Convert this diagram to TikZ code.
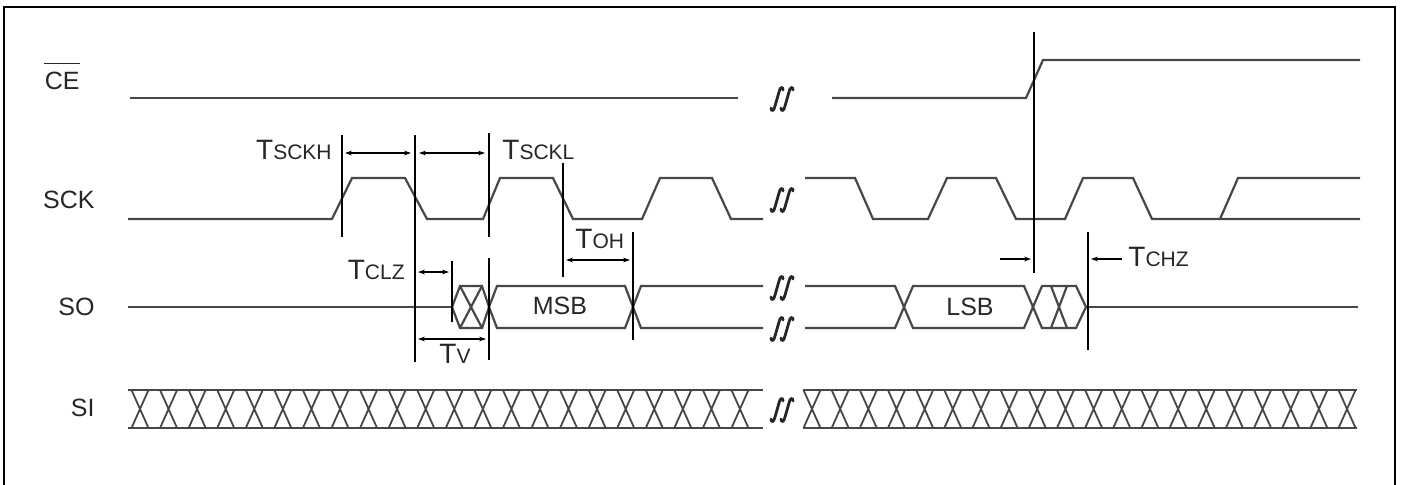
\documentclass[tikz,border=0pt]{standalone}
\usepackage{fontspec}
\setmainfont{Liberation Sans}
\usetikzlibrary{arrows.meta}
\newcommand{\tmlab}[1]{{\fontsize{14}{16}\selectfont T}{\fontsize{10.5}{12}\selectfont #1}}
\tikzset{
  sig/.style={line width=1.1pt, draw=black!72, line join=miter},
  tline/.style={line width=0.75pt, draw=black},
  dim/.style={line width=0.6pt, {Stealth[length=3.5pt,width=2.4pt]}-{Stealth[length=3.5pt,width=2.4pt]}},
  dimr/.style={line width=0.6pt, -{Stealth[length=3.5pt,width=2.4pt]}},
  lbl/.style={font=\fontsize{12.5}{15}\selectfont, text=black!85, inner sep=0pt},
  tlab/.style={text=black!85, inner sep=0pt},
  brkline/.style={line width=1.4pt, draw=black!85, line cap=round},
  brk/.pic={
    \draw[brkline, shift={(-5,0)}] (-6,9) .. controls (-6,12.5) and (-3,12.5) .. (-2,7) -- (2,-7) .. controls (3,-12.5) and (6,-12.5) .. (6,-9);
    \draw[brkline, shift={(5,0)}] (-6,9) .. controls (-6,12.5) and (-3,12.5) .. (-2,7) -- (2,-7) .. controls (3,-12.5) and (6,-12.5) .. (6,-9);
  }
}
\begin{document}
\begin{tikzpicture}[x=0.5pt,y=-0.5pt]
\useasboundingbox (0,0) rectangle (1402,484);
% frame
\draw[line width=1.1pt] (4,495) -- (4,7) -- (1395,7) -- (1395,495);

% signal labels
\node[lbl, anchor=east] (ce) at (80,81) {CE};
\draw[line width=0.7pt, black!85] ([yshift=4pt]ce.north west) -- ([yshift=4pt]ce.north east);
\node[lbl, anchor=east] (sck) at (95,200) {SCK};
\node[lbl, anchor=east] (so) at (95,307) {SO};
\node[lbl, anchor=east] (si) at (95,408) {SI};

% CE waveform
\draw[sig] (130,98) -- (738,98);
\draw[sig] (832,98) -- (1026,98) -- (1043,60) -- (1360,60);

% SCK waveform
\draw[sig] (128,219) -- (332,219) -- (352,178) -- (405,178) -- (427,219) -- (483,219) -- (500,178) -- (553,178) -- (573,219) -- (642,219) -- (660,178) -- (712,178) -- (731,219) -- (763,219);
\draw[sig] (805,178) -- (855,178) -- (873,219) -- (928,219) -- (947,178) -- (996,178) -- (1016,219) -- (1065,219) -- (1083,178) -- (1133,178) -- (1152,219) -- (1360,219);
\draw[sig] (1220,219) -- (1238,178) -- (1360,178);

% SO waveform
\draw[sig] (128,307) -- (452,307);
\draw[sig] (452,307) -- (460,286) -- (482,286) -- (489,307) -- (482,328) -- (460,328) -- cycle;
\draw[sig] (460,286) -- (482,328) (482,286) -- (460,328);
\draw[sig] (489,307) -- (497,286) -- (625,286) -- (633,307) -- (625,328) -- (497,328) -- cycle;
\node[lbl] (msb) at (560,306) {MSB};
\draw[sig] (763,286) -- (641,286) -- (633,307) -- (641,328) -- (763,328);
\draw[sig] (805,286) -- (895,286) -- (904,307) -- (895,328) -- (805,328);
\draw[sig] (904,307) -- (913,286) -- (1024,286) -- (1033,307) -- (1024,328) -- (913,328) -- cycle;
\node[lbl] (lsb) at (970,307) {LSB};
\draw[sig] (1033,307) -- (1042,286) -- (1076,286) -- (1086,307) -- (1076,328) -- (1042,328) -- cycle;
\draw[sig] (1051,286) -- (1067,328) (1067,286) -- (1051,328);
\draw[sig] (1086,307) -- (1358,307);

% SI waveform
\draw[sig] (128,390) -- (763,390) (128,428) -- (763,428);
\foreach \k in {0,...,21} {
  \pgfmathsetmacro{\cx}{140+28.57*\k}
  \draw[sig, line width=0.9pt] (\cx-8.5,390) -- (\cx+8.5,428) (\cx+8.5,390) -- (\cx-8.5,428);
}
\draw[sig] (803,390) -- (1357,390) (803,428) -- (1357,428);
\foreach \k in {0,...,19} {
  \pgfmathsetmacro{\cx}{812+28.16*\k}
  \draw[sig, line width=0.9pt] (\cx-8.5,390) -- (\cx+8.5,428) (\cx+8.5,390) -- (\cx-8.5,428);
}

% break symbols
\pic at (782,99) {brk};
\pic at (782,200) {brk};
\pic at (782,288) {brk};
\pic at (782,329) {brk};
\pic at (782,410) {brk};

% timing marker lines
\draw[tline] (342,135) -- (342,237);
\draw[tline] (415,135) -- (415,362);
\draw[tline] (489,133) -- (489,237);
\draw[tline] (489,258) -- (489,360);
\draw[tline] (563,163) -- (563,277);
\draw[tline] (633,232) -- (633,340);
\draw[tline] (452,261) -- (452,322);
\draw[tline] (1034,32) -- (1034,273);
\draw[tline] (1088,232) -- (1088,350);

% dimension arrows
\draw[dim] (345,153) -- (411,153);
\draw[dim] (419,153) -- (485,153);
\draw[dim] (566,260) -- (630,260);
\draw[dim] (418,272) -- (449,272);
\draw[dim] (418,339) -- (486,339);
\draw[dimr] (1000,259) -- (1031,259);
\draw[dimr] (1122,259) -- (1091,259);

% timing labels
\node[tlab, anchor=east] (tsckh) at (332,150) {\tmlab{SCKH}};
\node[tlab, anchor=west] (tsckl) at (502,150) {\tmlab{SCKL}};
\node[tlab, anchor=west] (toh) at (575,239) {\tmlab{OH}};
\node[tlab, anchor=east] (tclz) at (405,270) {\tmlab{CLZ}};
\node[tlab, anchor=west] (tv) at (439,354) {\tmlab{V}};
\node[tlab, anchor=west] (tchz) at (1128,257) {\tmlab{CHZ}};
\end{tikzpicture}
\end{document}
